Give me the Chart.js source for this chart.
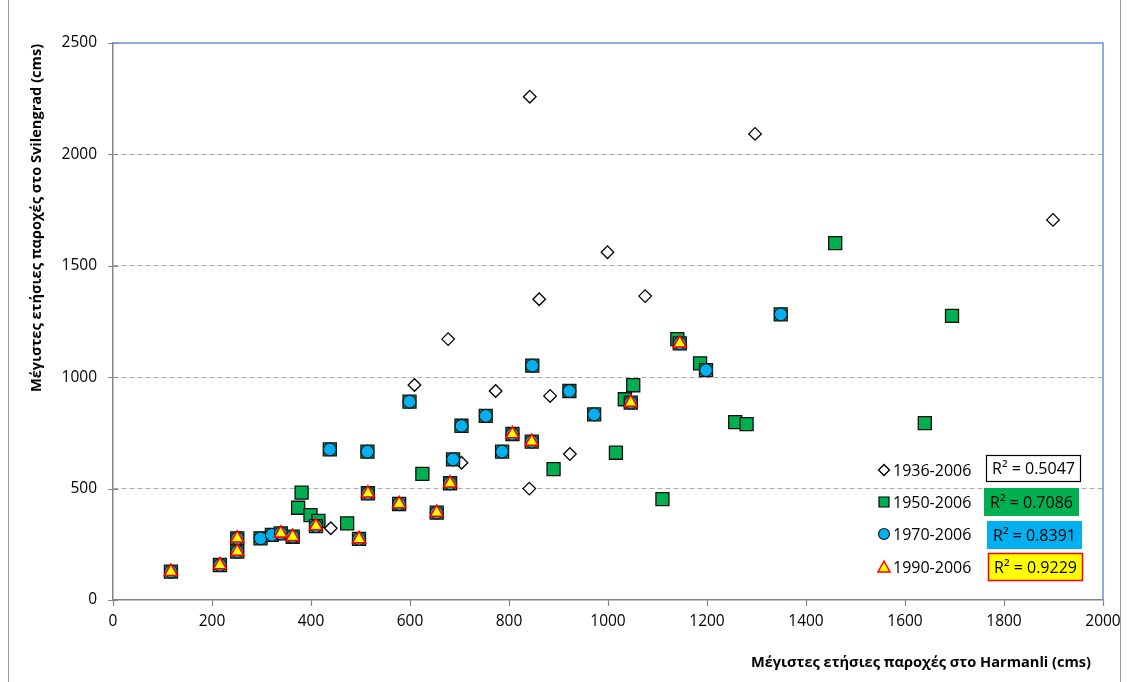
<!DOCTYPE html>
<html>
<head>
<meta charset="utf-8">
<title>Harmanli – Svilengrad</title>
<script src="https://cdn.jsdelivr.net/npm/chart.js@4/dist/chart.umd.min.js"></script>
<style>
  html, body { margin: 0; padding: 0; background: #ffffff; }
  #wrap { width: 1128px; height: 682px; position: relative; }
  canvas { display: block; }
</style>
</head>
<body>
<div id="wrap"><canvas id="chart" width="1128" height="682"></canvas></div>
<script>
// Annual maximum discharges (cms): Harmanli (x) against Svilengrad (y).
// Points are grouped by the sub-period they belong to; each plotted series
// covers its own start year up to 2006, so it contains every later group too.
const periodLabels = ['1936-2006', '1950-2006', '1970-2006', '1990-2006'];
const r2Labels = ['R² = 0.5047', 'R² = 0.7086', 'R² = 0.8391', 'R² = 0.9229'];

// 1936-1949
const harmanli1936 = [842, 1297, 1899, 999, 861, 1075, 677, 609, 773, 883, 704, 923, 841, 440];
const svilengrad1936 = [2259, 2092, 1706, 1561, 1350, 1364, 1171, 965, 938, 916, 616, 655, 500, 322];

// 1950-1969
const harmanli1950 = [1140, 1186, 1051, 1034, 1257, 1280, 1016, 1110, 1459, 1695, 1640, 890, 625, 473, 381, 374, 399, 415];
const svilengrad1950 = [1171, 1062, 964, 901, 798, 789, 661, 453, 1602, 1275, 794, 587, 566, 344, 482, 414, 381, 355];

// 1970-1989
const harmanli1970 = [599, 922, 753, 704, 972, 438, 514, 786, 687, 847, 1349, 1198, 298, 321];
const svilengrad1970 = [890, 938, 826, 782, 833, 676, 666, 666, 631, 1052, 1282, 1032, 277, 292];

// 1990-2006
const harmanli1990 = [117, 216, 251, 251, 339, 363, 410, 497, 515, 578, 654, 681, 807, 846, 1046, 1145];
const svilengrad1990 = [127, 157, 277, 217, 299, 284, 332, 274, 479, 431, 392, 524, 745, 711, 886, 1152];

// Axis tick values
const xTickValues = [0, 200, 400, 600, 800, 1000, 1200, 1400, 1600, 1800, 2000];
const yTickValues = [0, 500, 1000, 1500, 2000, 2500];

const xTitle = 'Μέγιστες ετήσιες παροχές στο Harmanli (cms)';
const yTitle = 'Μέγιστες ετήσιες παροχές στο Svilengrad (cms)';

function toPoints(xs, ys) {
  return xs.map((x, i) => ({ x: x, y: ys[i] }));
}

const group1936 = toPoints(harmanli1936, svilengrad1936);
const group1950 = toPoints(harmanli1950, svilengrad1950);
const group1970 = toPoints(harmanli1970, svilengrad1970);
const group1990 = toPoints(harmanli1990, svilengrad1990);

const series1990 = group1990;
const series1970 = group1970.concat(series1990);
const series1950 = group1950.concat(series1970);
const series1936 = group1936.concat(series1950);

const FONT = '"Open Sans", "Liberation Sans", sans-serif';
const GREEN = '#00B050';
const BLUE = '#00B0F0';
const YELLOW = '#FFFF00';
const RED = '#FF0000';

// Draws a small marker for the legend rows.
function drawSymbol(ctx, kind, x, y) {
  ctx.save();
  ctx.beginPath();
  if (kind === 'diamond') {
    const r = 5.5;
    ctx.moveTo(x, y - r); ctx.lineTo(x + r, y); ctx.lineTo(x, y + r); ctx.lineTo(x - r, y); ctx.closePath();
    ctx.fillStyle = '#ffffff'; ctx.strokeStyle = '#000000'; ctx.lineWidth = 1.4;
  } else if (kind === 'square') {
    ctx.rect(x - 5, y - 5, 10, 10);
    ctx.fillStyle = GREEN; ctx.strokeStyle = '#000000'; ctx.lineWidth = 1.2;
  } else if (kind === 'circle') {
    ctx.arc(x, y, 5.5, 0, Math.PI * 2);
    ctx.fillStyle = BLUE; ctx.strokeStyle = '#1a1a1a'; ctx.lineWidth = 1.2;
  } else {
    ctx.moveTo(x, y - 6); ctx.lineTo(x + 6, y + 5); ctx.lineTo(x - 6, y + 5); ctx.closePath();
    ctx.fillStyle = YELLOW; ctx.strokeStyle = RED; ctx.lineWidth = 1.5;
  }
  ctx.fill();
  ctx.stroke();
  ctx.restore();
}

const decorPlugin = {
  id: 'decor',
  afterDraw(chart) {
    const ctx = chart.ctx;
    const area = chart.chartArea;
    const xs = chart.scales.x;
    const ys = chart.scales.y;

    ctx.save();
    // outer frame
    ctx.strokeStyle = '#9a9a9a';
    ctx.lineWidth = 1;
    ctx.beginPath();
    ctx.moveTo(8.5, 0); ctx.lineTo(8.5, 682);
    ctx.moveTo(1120.5, 0); ctx.lineTo(1120.5, 682);
    ctx.stroke();

    // top and right edges of the plot area
    ctx.strokeStyle = '#6A93CB';
    ctx.lineWidth = 1.5;
    ctx.beginPath();
    ctx.moveTo(area.left, area.top); ctx.lineTo(area.right, area.top); ctx.lineTo(area.right, area.bottom);
    ctx.stroke();

    // tick marks
    ctx.strokeStyle = '#868686';
    ctx.lineWidth = 1.2;
    ctx.beginPath();
    yTickValues.forEach(v => {
      const py = Math.round(ys.getPixelForValue(v)) + 0.5;
      ctx.moveTo(area.left - 5, py); ctx.lineTo(area.left + 5, py);
    });
    xTickValues.forEach(v => {
      const px = Math.round(xs.getPixelForValue(v)) + 0.5;
      ctx.moveTo(px, area.bottom); ctx.lineTo(px, area.bottom + 6);
    });
    ctx.stroke();

    // axis titles
    ctx.fillStyle = '#000000';
    ctx.font = 'bold 14.6px ' + FONT;
    ctx.textAlign = 'center';
    ctx.textBaseline = 'middle';
    ctx.fillText(xTitle, 921, 663);
    ctx.save();
    ctx.translate(37, 218);
    ctx.rotate(-Math.PI / 2);
    ctx.fillText(yTitle, 0, 0);
    ctx.restore();

    // legend with R² boxes
    const rows = [
      { kind: 'diamond', y: 470, box: [986, 455, 95, 27], fill: '#ffffff', stroke: '#000000', lw: 1.2 },
      { kind: 'square',  y: 502, box: [984, 488, 95, 28], fill: GREEN, stroke: null, lw: 0 },
      { kind: 'circle',  y: 534, box: [987, 521, 95, 28], fill: BLUE, stroke: null, lw: 0 },
      { kind: 'triangle', y: 567, box: [988, 553, 95, 28], fill: YELLOW, stroke: RED, lw: 1.5 }
    ];
    rows.forEach((row, i) => {
      drawSymbol(ctx, row.kind, 884, row.y);
      ctx.font = '16px ' + FONT;
      ctx.fillStyle = '#000000';
      ctx.textAlign = 'left';
      ctx.textBaseline = 'middle';
      ctx.fillText(periodLabels[i], 893, row.y + 1);

      const [bx, by, bw, bh] = row.box;
      ctx.fillStyle = row.fill;
      ctx.fillRect(bx, by, bw, bh);
      if (row.stroke) {
        ctx.strokeStyle = row.stroke;
        ctx.lineWidth = row.lw;
        ctx.strokeRect(bx + 0.5, by + 0.5, bw - 1, bh - 1);
      }
      ctx.fillStyle = '#000000';
      ctx.textAlign = 'center';
      ctx.fillText(r2Labels[i], bx + bw / 2, by + bh / 2 + 1);
    });
    ctx.restore();
  }
};

new Chart(document.getElementById('chart'), {
  type: 'scatter',
  data: {
    datasets: [
      {
        label: periodLabels[0], data: series1936, order: 3,
        pointStyle: 'rectRot', pointRadius: 6.3, pointHoverRadius: 6.3,
        backgroundColor: '#ffffff', borderColor: '#000000', borderWidth: 1.3
      },
      {
        label: periodLabels[1], data: series1950, order: 2,
        pointStyle: 'rect', pointRadius: 9.2, pointHoverRadius: 9.2,
        backgroundColor: GREEN, borderColor: '#111111', borderWidth: 1.3
      },
      {
        label: periodLabels[2], data: series1970, order: 1,
        pointStyle: 'circle', pointRadius: 6.4, pointHoverRadius: 6.4,
        backgroundColor: BLUE, borderColor: '#1a1a1a', borderWidth: 1.1
      },
      {
        label: periodLabels[3], data: series1990, order: 0,
        pointStyle: 'triangle', pointRadius: 7.5, pointHoverRadius: 7.5,
        backgroundColor: YELLOW, borderColor: RED, borderWidth: 1.6
      }
    ]
  },
  options: {
    responsive: false,
    animation: false,
    devicePixelRatio: 1,
    layout: { padding: { left: 0, top: 43, right: 25, bottom: 0 } },
    plugins: {
      legend: { display: false },
      tooltip: { enabled: false }
    },
    scales: {
      x: {
        type: 'linear',
        min: 0, max: 2000,
        afterFit(scale) { scale.height = 82; scale.paddingLeft = 0; scale.paddingRight = 0; },
        afterBuildTicks(scale) { scale.ticks = xTickValues.map(v => ({ value: v })); },
        ticks: {
          color: '#000000', font: { family: FONT, size: 15.5 }, padding: 12, maxRotation: 0,
          callback: (v) => String(v)
        },
        grid: { display: false, drawTicks: false },
        border: { display: true, color: '#868686', width: 1.5 }
      },
      y: {
        type: 'linear',
        min: 0, max: 2500,
        afterFit(scale) { scale.width = 113; scale.paddingTop = 0; scale.paddingBottom = 0; },
        afterBuildTicks(scale) { scale.ticks = yTickValues.map(v => ({ value: v })); },
        ticks: {
          color: '#000000', font: { family: FONT, size: 15.5 }, padding: 16,
          callback: (v) => String(v)
        },
        grid: {
          drawTicks: false,
          lineWidth: 1,
          color: (c) => (c.tick && c.tick.value > 0 && c.tick.value < 2500) ? '#ABABAB' : 'rgba(0,0,0,0)'
        },
        border: { display: true, color: '#868686', width: 1.5, dash: [5, 3] }
      }
    }
  },
  plugins: [decorPlugin]
});
</script>
</body>
</html>
